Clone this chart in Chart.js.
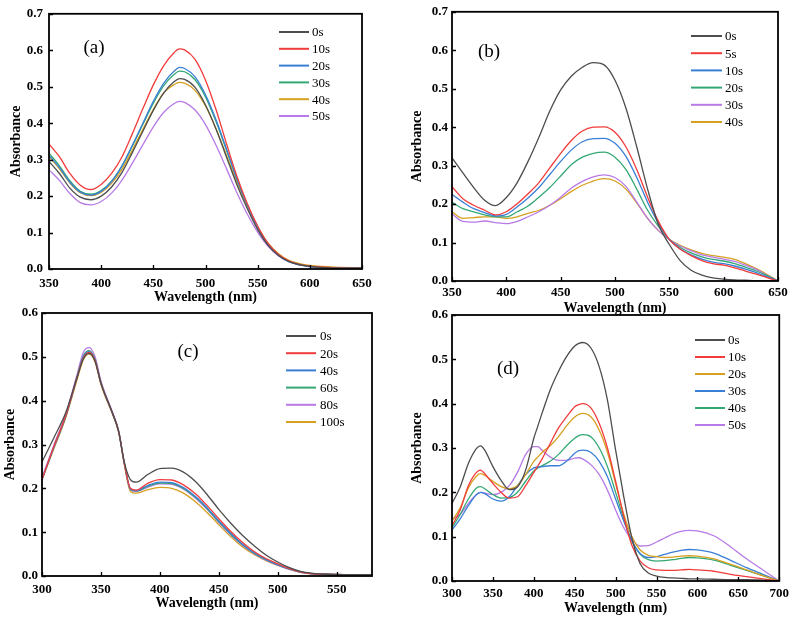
<!DOCTYPE html>
<html><head><meta charset="utf-8">
<script src="https://cdn.jsdelivr.net/npm/chart.js@4/dist/chart.umd.min.js"></script>
<style>
html,body{margin:0;padding:0;background:#fff;width:794px;height:617px;overflow:hidden}
canvas{position:absolute;left:0;top:0}
</style></head><body>
<canvas id="ca" width="794" height="617"></canvas>
<canvas id="cb" width="794" height="617"></canvas>
<canvas id="cc" width="794" height="617"></canvas>
<canvas id="cd" width="794" height="617"></canvas>
<script>
// ---------- Panel (a) ----------
const aWl = [350,360,370,380,390,400,410,420,430,440,450,460,470,475,480,490,500,510,520,530,540,550,560,570,580,590,600,620,650];
const aLabels = ['0s','10s','20s','30s','40s','50s'];
const a0  = [0.295,0.262,0.222,0.197,0.190,0.200,0.225,0.265,0.320,0.378,0.435,0.483,0.514,0.522,0.520,0.498,0.450,0.385,0.308,0.232,0.166,0.108,0.065,0.037,0.020,0.012,0.007,0.003,0.002];
const a10 = [0.343,0.308,0.262,0.230,0.218,0.232,0.262,0.308,0.372,0.440,0.505,0.558,0.594,0.604,0.601,0.575,0.518,0.438,0.345,0.255,0.180,0.118,0.070,0.040,0.022,0.013,0.008,0.004,0.002];
const a20 = [0.312,0.278,0.238,0.211,0.203,0.213,0.240,0.283,0.340,0.400,0.460,0.510,0.543,0.553,0.550,0.527,0.478,0.410,0.330,0.248,0.176,0.114,0.067,0.038,0.020,0.011,0.006,0.003,0.002];
const a30 = [0.318,0.283,0.242,0.213,0.205,0.215,0.241,0.283,0.338,0.397,0.455,0.503,0.534,0.543,0.541,0.519,0.472,0.405,0.327,0.247,0.176,0.115,0.068,0.039,0.021,0.012,0.007,0.003,0.002];
const a40 = [0.308,0.275,0.236,0.209,0.201,0.210,0.235,0.274,0.327,0.383,0.438,0.484,0.506,0.512,0.510,0.490,0.447,0.385,0.313,0.239,0.173,0.116,0.071,0.042,0.024,0.015,0.010,0.006,0.003];
const a50 = [0.272,0.243,0.207,0.182,0.176,0.185,0.208,0.244,0.291,0.341,0.390,0.430,0.454,0.460,0.457,0.436,0.396,0.340,0.276,0.210,0.151,0.101,0.062,0.036,0.020,0.012,0.008,0.004,0.002];

// ---------- Panel (b) ----------
const bWl = [350,360,370,380,390,400,410,420,430,440,450,460,470,480,490,500,510,520,530,540,550,560,570,580,590,600,610,620,630,640,650];
const bLabels = ['0s','5s','10s','20s','30s','40s'];
const b0  = [0.320,0.281,0.243,0.210,0.196,0.217,0.256,0.311,0.374,0.442,0.497,0.533,0.556,0.568,0.562,0.522,0.450,0.349,0.239,0.146,0.095,0.053,0.028,0.015,0.008,0.005,0.003,0.002,0.001,0.001,0.000];
const b5  = [0.245,0.214,0.197,0.184,0.172,0.180,0.201,0.227,0.256,0.294,0.332,0.366,0.390,0.400,0.401,0.387,0.349,0.290,0.218,0.155,0.108,0.083,0.066,0.053,0.045,0.041,0.034,0.026,0.018,0.009,0.000];
const b10 = [0.225,0.205,0.188,0.178,0.169,0.173,0.193,0.216,0.243,0.277,0.311,0.341,0.362,0.370,0.371,0.358,0.324,0.269,0.205,0.150,0.108,0.083,0.068,0.057,0.049,0.045,0.039,0.031,0.022,0.011,0.000];
const b20 = [0.205,0.188,0.180,0.172,0.167,0.167,0.180,0.195,0.218,0.243,0.273,0.303,0.322,0.332,0.335,0.322,0.290,0.239,0.184,0.142,0.108,0.087,0.073,0.063,0.056,0.052,0.045,0.036,0.026,0.014,0.000];
const b30 = [0.175,0.155,0.153,0.156,0.152,0.149,0.155,0.167,0.180,0.197,0.218,0.242,0.259,0.271,0.276,0.269,0.246,0.205,0.163,0.131,0.108,0.091,0.079,0.068,0.062,0.057,0.051,0.041,0.030,0.015,0.000];
const b40 = [0.180,0.163,0.165,0.167,0.167,0.163,0.167,0.176,0.184,0.197,0.214,0.233,0.249,0.260,0.266,0.260,0.239,0.203,0.163,0.131,0.108,0.093,0.081,0.072,0.066,0.062,0.056,0.045,0.032,0.017,0.000];

// ---------- Panel (c) ----------
const cWl = [300,310,320,330,335,340,345,350,360,365,370,375,380,390,400,410,420,430,440,450,460,470,480,490,500,510,520,530,540,560,580];
const cLabels = ['0s','20s','40s','60s','80s','100s'];
const c0   = [0.260,0.315,0.372,0.455,0.495,0.508,0.490,0.440,0.370,0.330,0.258,0.220,0.214,0.232,0.245,0.246,0.237,0.216,0.186,0.152,0.121,0.093,0.069,0.048,0.032,0.019,0.010,0.006,0.004,0.003,0.003];
const c20  = [0.220,0.295,0.365,0.455,0.497,0.510,0.492,0.440,0.370,0.330,0.255,0.200,0.196,0.212,0.220,0.219,0.208,0.188,0.161,0.131,0.102,0.077,0.056,0.040,0.028,0.017,0.009,0.005,0.004,0.003,0.003];
const c40  = [0.220,0.293,0.363,0.455,0.500,0.512,0.493,0.440,0.370,0.330,0.255,0.199,0.195,0.207,0.214,0.213,0.202,0.182,0.156,0.126,0.098,0.073,0.053,0.038,0.026,0.016,0.009,0.005,0.004,0.003,0.003];
const c60  = [0.220,0.293,0.363,0.456,0.502,0.514,0.494,0.441,0.370,0.330,0.255,0.198,0.194,0.205,0.212,0.211,0.200,0.180,0.154,0.124,0.096,0.072,0.052,0.037,0.026,0.016,0.009,0.005,0.004,0.003,0.003];
const c80  = [0.225,0.298,0.368,0.462,0.510,0.521,0.500,0.445,0.372,0.332,0.255,0.197,0.193,0.203,0.210,0.209,0.198,0.178,0.152,0.122,0.094,0.070,0.051,0.036,0.025,0.015,0.008,0.005,0.004,0.003,0.003];
const c100 = [0.220,0.290,0.360,0.450,0.493,0.506,0.488,0.437,0.368,0.328,0.252,0.193,0.189,0.197,0.202,0.200,0.189,0.170,0.145,0.117,0.090,0.067,0.049,0.035,0.024,0.015,0.008,0.005,0.004,0.003,0.003];

// ---------- Panel (d) ----------
const dWl = [300,310,320,330,335,340,350,360,370,380,390,400,405,410,420,430,440,450,455,460,470,480,490,500,510,520,530,540,550,560,570,580,590,600,620,640,660,680,700];
const dLabels = ['0s','10s','20s','30s','40s','50s'];
const d0  = [0.175,0.212,0.265,0.299,0.305,0.295,0.258,0.227,0.206,0.212,0.250,0.322,0.350,0.378,0.431,0.472,0.506,0.530,0.536,0.538,0.525,0.483,0.408,0.295,0.190,0.096,0.039,0.018,0.011,0.008,0.007,0.006,0.005,0.005,0.004,0.003,0.003,0.002,0.000];
const d10 = [0.125,0.160,0.215,0.245,0.250,0.242,0.220,0.200,0.187,0.190,0.215,0.245,0.260,0.275,0.310,0.345,0.370,0.393,0.398,0.400,0.390,0.355,0.300,0.225,0.145,0.080,0.045,0.030,0.025,0.024,0.024,0.025,0.026,0.025,0.022,0.015,0.010,0.005,0.000];
const d20 = [0.135,0.165,0.210,0.237,0.242,0.238,0.225,0.213,0.208,0.215,0.240,0.270,0.280,0.290,0.305,0.325,0.350,0.370,0.376,0.378,0.370,0.340,0.290,0.220,0.150,0.100,0.070,0.058,0.055,0.053,0.054,0.056,0.057,0.056,0.050,0.038,0.025,0.012,0.000];
const d30 = [0.115,0.140,0.170,0.195,0.200,0.197,0.185,0.180,0.190,0.215,0.240,0.255,0.257,0.258,0.260,0.260,0.270,0.288,0.294,0.295,0.290,0.270,0.235,0.185,0.135,0.090,0.062,0.053,0.055,0.060,0.065,0.069,0.071,0.070,0.063,0.047,0.030,0.015,0.000];
const d40 = [0.120,0.150,0.185,0.210,0.213,0.208,0.195,0.187,0.188,0.200,0.225,0.248,0.255,0.260,0.270,0.285,0.305,0.322,0.328,0.330,0.325,0.300,0.258,0.200,0.140,0.090,0.060,0.048,0.045,0.046,0.048,0.051,0.053,0.052,0.047,0.036,0.024,0.012,0.000];
const d50 = [0.140,0.150,0.175,0.195,0.200,0.198,0.195,0.200,0.215,0.245,0.285,0.303,0.303,0.295,0.280,0.272,0.272,0.277,0.278,0.275,0.262,0.240,0.205,0.160,0.120,0.093,0.079,0.080,0.088,0.097,0.106,0.112,0.114,0.113,0.102,0.078,0.050,0.025,0.000];

// colours
const K='#4d4d4d', R='#f23b3b', B='#3a7fd6', G='#34a874', O='#d6a021', P='#b77ae6';

const SERIF = "'Liberation Serif','Times New Roman',serif";

const deco = {
  id: 'deco',
  afterDatasetsDraw(chart, args, o) {
    const {ctx, chartArea: a, scales: {x, y}} = chart;
    ctx.save();
    ctx.strokeStyle = '#000';
    ctx.lineWidth = 1.8;
    ctx.strokeRect(a.left, a.top, a.right - a.left, a.bottom - a.top);
    ctx.lineWidth = 1.3;
    ctx.beginPath();
    x.ticks.forEach(t => { const px = Math.round(x.getPixelForValue(t.value)) + 0.5; ctx.moveTo(px, a.bottom); ctx.lineTo(px, a.bottom - 4); });
    y.ticks.forEach(t => { const py = Math.round(y.getPixelForValue(t.value)) + 0.5; ctx.moveTo(a.left, py); ctx.lineTo(a.left + 4, py); });
    ctx.stroke();
    // legend
    const L = o.legend;
    ctx.font = '13px ' + SERIF;
    ctx.textBaseline = 'middle';
    ctx.fillStyle = '#000';
    chart.data.datasets.forEach((ds, i) => {
      const yy = L.y0 + i * L.dy;
      ctx.strokeStyle = ds.borderColor;
      ctx.lineWidth = 2;
      ctx.beginPath(); ctx.moveTo(L.x1, yy); ctx.lineTo(L.x2, yy); ctx.stroke();
      ctx.fillText(ds.label, L.tx, yy + 1);
    });
    // panel label
    ctx.font = '19px ' + SERIF;
    ctx.textAlign = 'center';
    ctx.fillText(o.label, o.lx, o.ly);
    ctx.restore();
  }
};

function makeChart(id, wl, series, labels, colors, cfg) {
  const datasets = series.map((s, i) => ({
    label: labels[i],
    data: wl.map((w, j) => ({x: w, y: s[j]})),
    borderColor: colors[i],
    borderWidth: 1.3,
    pointRadius: 0,
    cubicInterpolationMode: 'monotone',
    fill: false
  }));
  return new Chart(document.getElementById(id), {
    type: 'line',
    data: {datasets},
    plugins: [deco],
    options: {
      responsive: false,
      animation: false,
      events: [],
      layout: {padding: cfg.pad},
      plugins: {
        legend: {display: false},
        tooltip: {enabled: false},
        deco: cfg.deco
      },
      scales: {
        x: {
          type: 'linear', min: cfg.xmin, max: cfg.xmax,
          afterBuildTicks: s => { s.ticks = s.ticks.filter(t => t.value % 50 === 0); },
          afterFit: s => { s.height = cfg.xh; },
          ticks: {stepSize: 50, padding: cfg.xtp, color: '#000', font: {family: SERIF, size: 13, weight: 'bold'}, maxRotation: 0, autoSkip: false},
          grid: {display: false, drawTicks: false},
          border: {display: false},
          title: {display: true, text: 'Wavelength (nm)', color: '#000', padding: {top: 0, bottom: 0}, font: {family: SERIF, size: 14, weight: 'bold'}}
        },
        y: {
          type: 'linear', min: 0, max: cfg.ymax,
          afterFit: s => { s.width = cfg.yw; },
          ticks: {stepSize: 0.1, padding: cfg.ytp, color: '#000', font: {family: SERIF, size: 13, weight: 'bold'}, callback: v => v.toFixed(1)},
          grid: {display: false, drawTicks: false},
          border: {display: false},
          title: {display: true, text: 'Absorbance', color: '#000', padding: {top: cfg.ytt, bottom: 0}, font: {family: SERIF, size: 14, weight: 'bold'}}
        }
      }
    }
  });
}

makeChart('ca', aWl, [a0, a10, a20, a30, a40, a50], aLabels, [K, R, B, G, O, P], {
  pad: {left: 0, top: 7, right: 432, bottom: 311.6}, xh: 36.4, yw: 49, ytp: 6, ytt: 8.2, xtp: 7,
  xmin: 350, xmax: 650, ymax: 0.7,
  deco: {label: '(a)', lx: 94, ly: 48, legend: {x1: 279, x2: 309, tx: 312, y0: 32, dy: 16.8}}
});
makeChart('cb', bWl, [b0, b5, b10, b20, b30, b40], bLabels, [K, R, B, G, P, O], {
  pad: {left: 400, top: 5, right: 16, bottom: 300.6}, xh: 35.4, yw: 52, ytp: 4, ytt: 8.6, xtp: 4,
  xmin: 350, xmax: 650, ymax: 0.7,
  deco: {label: '(b)', lx: 489, ly: 52, legend: {x1: 691, x2: 722, tx: 725, y0: 36, dy: 17.2}}
});
makeChart('cc', cWl, [c0, c20, c40, c60, c80, c100], cLabels, [K, R, B, G, P, O], {
  pad: {left: 0, top: 313, right: 422, bottom: 5.6}, xh: 35.4, yw: 42, ytp: 4, ytt: 1.6, xtp: 6,
  xmin: 300, xmax: 580, ymax: 0.6,
  deco: {label: '(c)', lx: 188, ly: 352, legend: {x1: 286, x2: 316, tx: 320, y0: 336, dy: 17.2}}
});
makeChart('cd', dWl, [d0, d10, d20, d30, d40, d50], dLabels, [K, R, O, B, G, P], {
  pad: {left: 400, top: 315, right: 12, bottom: 0.6}, xh: 35.4, yw: 52, ytp: 4, ytt: 8.6, xtp: 5,
  xmin: 300, xmax: 700, ymax: 0.6,
  deco: {label: '(d)', lx: 508, ly: 369, legend: {x1: 695, x2: 725, tx: 728, y0: 340, dy: 17}}
});
</script>
</body></html>
